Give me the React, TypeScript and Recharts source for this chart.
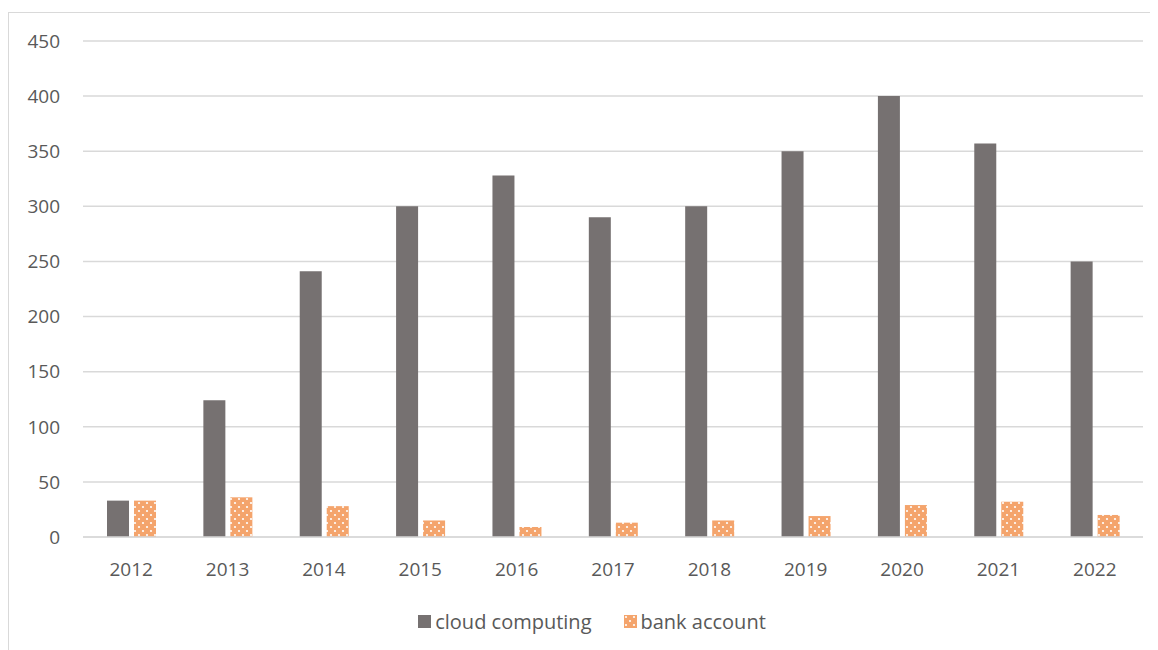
import React from 'react';
import { BarChart, Bar, XAxis, YAxis, CartesianGrid } from 'recharts';

const years = ['2012', '2013', '2014', '2015', '2016', '2017', '2018', '2019', '2020', '2021', '2022'];
const cloudComputing = [33, 124, 241, 300, 328, 290, 300, 350, 400, 357, 250];
const bankAccount = [33, 36, 28, 15, 9, 13, 15, 19, 29, 32, 20];
const yTicks = [0, 50, 100, 150, 200, 250, 300, 350, 400, 450];

const DARK = '#767171';
const ORANGE = '#F4A46C';
const TEXT = '#595959';
const GRID = '#D9D9D9';
const FONT = '"Open Sans", sans-serif';

const data = years.map((year, i) => ({
  year,
  cloud: cloudComputing[i],
  bank: bankAccount[i]
}));

const App: React.FC = () => {
  return (
    <div
      style={{
        position: 'relative',
        marginTop: 4,
        width: 1160,
        height: 650,
        border: `1px solid ${GRID}`,
        borderRight: 'none',
        boxSizing: 'border-box',
        fontFamily: FONT
      }}
    >
      <BarChart
        width={1150}
        height={600}
        data={data}
        margin={{ top: 28, right: 16, bottom: 30, left: 0 }}
        barGap={5}
        barSize={22}
      >
        <defs>
          <pattern id="dots" width="8" height="8" patternUnits="userSpaceOnUse">
            <rect width="8" height="8" fill={ORANGE} />
            <circle cx="2" cy="2" r="1.1" fill="#ffffff" />
            <circle cx="6" cy="6" r="1.1" fill="#ffffff" />
          </pattern>
        </defs>
        <CartesianGrid vertical={false} stroke={GRID} strokeWidth={1.5} />
        <XAxis
          dataKey="year"
          axisLine={{ stroke: GRID, strokeWidth: 1.5 }}
          tickLine={false}
          tick={{ fill: TEXT, fontSize: 19, fontFamily: FONT }}
          tickMargin={20}
          height={46}
        />
        <YAxis
          domain={[0, 450]}
          ticks={yTicks}
          axisLine={false}
          tickLine={false}
          tick={{ fill: TEXT, fontSize: 19, fontFamily: FONT }}
          tickMargin={17}
          width={74}
        />
        <Bar dataKey="cloud" name="cloud computing" fill={DARK} isAnimationActive={false} />
        <Bar dataKey="bank" name="bank account" fill="url(#dots)" isAnimationActive={false} />
      </BarChart>
      <div
        style={{
          position: 'absolute',
          top: 595,
          left: 8,
          width: 1150,
          display: 'flex',
          justifyContent: 'center',
          gap: 32,
          fontSize: 20,
          color: TEXT
        }}
      >
        <div style={{ display: 'flex', alignItems: 'center', gap: 4 }}>
          <span style={{ width: 13, height: 13, background: DARK, display: 'inline-block' }} />
          <span>cloud computing</span>
        </div>
        <div style={{ display: 'flex', alignItems: 'center', gap: 4 }}>
          <svg width={13} height={13}>
            <rect width={13} height={13} fill="url(#dots)" />
          </svg>
          <span>bank account</span>
        </div>
      </div>
    </div>
  );
};

export default App;
